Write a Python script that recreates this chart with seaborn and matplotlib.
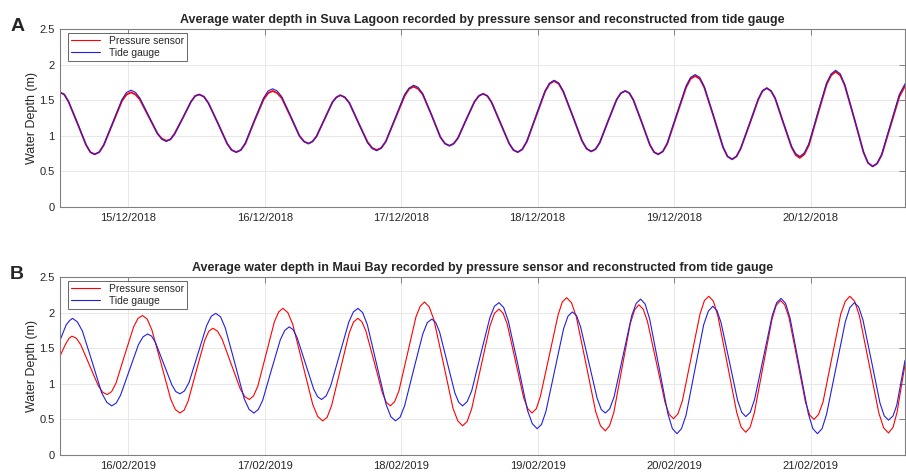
import pandas as pd
import numpy as np
import matplotlib
matplotlib.use("Agg")
import matplotlib.pyplot as plt
import matplotlib.dates as mdates
import seaborn as sns

# hours since the left edge of each panel, water depth in m
suva_start = "2018-12-14 12:00"
suva_hours = [0, 0.76, 1.5, 3.05, 4.6, 5.34, 6.1, 6.9, 7.7, 9.3, 10.9, 11.7,
              12.5, 13.28, 14.05, 15.6, 17.15, 17.92, 18.7, 19.43, 20.15, 21.6, 23.05, 23.78,
              24.5, 25.31, 26.1, 27.75, 29.4, 30.19, 31.0, 31.8, 32.6, 34.2, 35.8, 36.6,
              37.4, 38.19, 39.0, 40.55, 42.1, 42.91, 43.7, 44.4, 45.1, 46.5, 47.9, 48.6,
              49.3, 50.1, 50.9, 52.5, 54.1, 54.9, 55.7, 56.51, 57.3, 58.95, 60.6, 61.39,
              62.2, 62.99, 63.8, 65.35, 66.9, 67.71, 68.5, 69.24, 70.0, 71.45, 72.9, 73.66,
              74.4, 75.16, 75.9, 77.45, 79.0, 79.74, 80.5, 81.3, 82.1, 83.7, 85.3, 86.1,
              86.9, 87.71, 88.5, 90.15, 91.8, 92.59, 93.4, 94.15, 94.9, 96.4, 97.9, 98.65,
              99.4, 100.13, 100.85, 102.3, 103.75, 104.48, 105.2, 106.01, 106.8, 108.45, 110.1, 110.89,
              111.7, 112.51, 113.3, 114.95, 116.6, 117.39, 118.2, 118.96, 119.7, 121.25, 122.8, 123.54,
              124.3, 125.03, 125.75, 127.2, 128.65, 129.38, 130.1, 130.89, 131.7, 133.25, 134.8, 135.61,
              136.4, 137.21, 138.0, 139.65, 141.3, 142.09, 142.9, 143.69, 144.5, 146.05, 147.6, 148.6]
suva_sensor = [1.61, 1.58, 1.48, 1.18, 0.87, 0.77, 0.74, 0.77, 0.87, 1.18, 1.49, 1.58,
               1.61, 1.58, 1.51, 1.27, 1.03, 0.96, 0.93, 0.95, 1.03, 1.25, 1.48, 1.56,
               1.58, 1.55, 1.46, 1.18, 0.89, 0.80, 0.77, 0.80, 0.89, 1.21, 1.51, 1.60,
               1.63, 1.60, 1.53, 1.27, 1.00, 0.92, 0.89, 0.92, 0.99, 1.23, 1.47, 1.54,
               1.57, 1.54, 1.46, 1.18, 0.91, 0.83, 0.80, 0.83, 0.92, 1.24, 1.56, 1.66,
               1.69, 1.66, 1.58, 1.29, 0.98, 0.89, 0.86, 0.89, 0.97, 1.23, 1.48, 1.56,
               1.59, 1.56, 1.47, 1.18, 0.89, 0.80, 0.77, 0.81, 0.92, 1.27, 1.62, 1.73,
               1.77, 1.73, 1.62, 1.28, 0.93, 0.82, 0.78, 0.81, 0.90, 1.21, 1.51, 1.60,
               1.63, 1.60, 1.50, 1.19, 0.87, 0.77, 0.74, 0.78, 0.89, 1.29, 1.68, 1.80,
               1.84, 1.80, 1.68, 1.27, 0.84, 0.71, 0.67, 0.71, 0.82, 1.16, 1.51, 1.63,
               1.67, 1.63, 1.53, 1.18, 0.84, 0.73, 0.69, 0.74, 0.87, 1.30, 1.72, 1.85,
               1.90, 1.85, 1.71, 1.25, 0.77, 0.62, 0.57, 0.61, 0.73, 1.14, 1.55, 1.70]
suva_gauge = [1.61, 1.58, 1.48, 1.18, 0.87, 0.77, 0.74, 0.77, 0.87, 1.19, 1.51, 1.61,
              1.64, 1.61, 1.53, 1.28, 1.03, 0.95, 0.92, 0.95, 1.02, 1.25, 1.48, 1.56,
              1.58, 1.55, 1.46, 1.18, 0.89, 0.80, 0.77, 0.80, 0.90, 1.22, 1.53, 1.63,
              1.66, 1.63, 1.55, 1.28, 1.00, 0.92, 0.89, 0.92, 0.99, 1.23, 1.47, 1.54,
              1.57, 1.54, 1.46, 1.18, 0.90, 0.82, 0.79, 0.83, 0.92, 1.25, 1.58, 1.67,
              1.71, 1.68, 1.59, 1.29, 0.98, 0.89, 0.86, 0.89, 0.97, 1.23, 1.48, 1.56,
              1.59, 1.56, 1.47, 1.18, 0.89, 0.80, 0.77, 0.81, 0.92, 1.28, 1.63, 1.74,
              1.78, 1.74, 1.63, 1.28, 0.93, 0.82, 0.78, 0.81, 0.90, 1.21, 1.51, 1.60,
              1.63, 1.60, 1.50, 1.19, 0.87, 0.77, 0.74, 0.78, 0.90, 1.30, 1.70, 1.82,
              1.86, 1.82, 1.69, 1.27, 0.84, 0.71, 0.67, 0.71, 0.82, 1.17, 1.52, 1.63,
              1.67, 1.63, 1.53, 1.19, 0.85, 0.75, 0.71, 0.76, 0.89, 1.32, 1.74, 1.87,
              1.92, 1.87, 1.72, 1.25, 0.77, 0.62, 0.57, 0.61, 0.74, 1.16, 1.58, 1.73]

maui_start = "2019-02-15 12:00"
maui_sensor_hours = [0, 1.0, 1.6,
                     2.1, 2.88, 3.65, 5.2, 6.75, 7.53, 8.3, 9.08, 9.85, 11.4, 12.95, 13.73,
                     14.5, 15.33, 16.15, 17.8, 19.45, 20.28, 21.1, 21.83, 22.55, 24.0, 25.45, 26.18,
                     26.9, 27.7, 28.5, 30.1, 31.7, 32.5, 33.3, 34.04, 34.8, 36.25, 37.7, 38.46,
                     39.2, 40.08, 40.95, 42.7, 44.45, 45.33, 46.2, 46.98, 47.75, 49.3, 50.85, 51.63,
                     52.4, 53.11, 53.8, 55.25, 56.7, 57.39, 58.1, 58.85, 59.6, 61.1, 62.6, 63.35,
                     64.1, 64.94, 65.75, 67.45, 69.1, 69.96, 70.8, 71.6, 72.4, 74.0, 75.6, 76.4,
                     77.2, 77.93, 78.65, 80.1, 81.55, 82.28, 83.0, 83.76, 84.5, 86.05, 87.6, 88.34,
                     89.1, 89.95, 90.8, 92.5, 94.2, 95.05, 95.9, 96.64, 97.4, 98.85, 100.3, 101.06,
                     101.8, 102.56, 103.3, 104.85, 106.4, 107.14, 107.9, 108.68, 109.45, 111.0, 112.55, 113.33,
                     114.1, 114.91, 115.7, 117.35, 119.0, 119.79, 120.6, 121.36, 122.1, 123.65, 125.2, 125.94,
                     126.7, 127.44, 128.2, 129.65, 131.1, 131.86, 132.6, 133.39, 134.2, 135.75, 137.3, 138.11,
                     138.9, 139.75, 140.6, 142.3, 144.0, 144.85, 145.7, 146.5, 147.2, 148.6]
maui_sensor = [1.39, 1.56, 1.64,
               1.67, 1.64, 1.55, 1.26, 0.97, 0.88, 0.85, 0.89, 1.01, 1.41, 1.80, 1.92,
               1.96, 1.91, 1.76, 1.28, 0.79, 0.64, 0.59, 0.63, 0.76, 1.19, 1.61, 1.74,
               1.78, 1.74, 1.63, 1.28, 0.93, 0.82, 0.78, 0.83, 0.97, 1.42, 1.87, 2.01,
               2.06, 2.00, 1.83, 1.27, 0.71, 0.54, 0.48, 0.53, 0.69, 1.20, 1.71, 1.87,
               1.92, 1.87, 1.74, 1.31, 0.87, 0.74, 0.69, 0.75, 0.90, 1.42, 1.94, 2.09,
               2.15, 2.08, 1.90, 1.28, 0.66, 0.48, 0.41, 0.47, 0.65, 1.23, 1.81, 1.99,
               2.05, 1.99, 1.84, 1.32, 0.80, 0.65, 0.59, 0.65, 0.83, 1.40, 1.97, 2.15,
               2.21, 2.14, 1.94, 1.28, 0.61, 0.41, 0.34, 0.41, 0.60, 1.23, 1.85, 2.04,
               2.11, 2.05, 1.88, 1.31, 0.74, 0.57, 0.51, 0.58, 0.76, 1.37, 1.98, 2.17,
               2.23, 2.16, 1.95, 1.28, 0.60, 0.39, 0.32, 0.39, 0.59, 1.25, 1.90, 2.10,
               2.17, 2.11, 1.93, 1.34, 0.74, 0.56, 0.50, 0.57, 0.75, 1.37, 1.98, 2.16,
               2.23, 2.16, 1.95, 1.27, 0.59, 0.38, 0.31, 0.39, 0.60, 1.27]
maui_gauge_hours = [0, 1.1, 1.7,
                    2.2, 3.06, 3.95, 5.65, 7.35, 8.24, 9.1, 9.89, 10.65, 12.25, 13.8, 14.61,
                    15.4, 16.11, 16.8, 18.25, 19.7, 20.39, 21.1, 21.89, 22.7, 24.25, 25.8, 26.61,
                    27.4, 28.24, 29.05, 30.75, 32.4, 33.26, 34.1, 34.88, 35.65, 37.2, 38.75, 39.53,
                    40.3, 41.01, 41.7, 43.15, 44.6, 45.29, 46.0, 46.8, 47.6, 49.2, 50.8, 51.6,
                    52.4, 53.23, 54.05, 55.7, 57.35, 58.18, 59.0, 59.8, 60.6, 62.2, 63.8, 64.6,
                    65.4, 66.08, 66.75, 68.1, 69.45, 70.13, 70.8, 71.6, 72.4, 74.0, 75.6, 76.4,
                    77.2, 78.04, 78.85, 80.55, 82.2, 83.06, 83.9, 84.68, 85.45, 87.0, 88.55, 89.33,
                    90.1, 90.83, 91.55, 93.0, 94.45, 95.18, 95.9, 96.68, 97.45, 99.0, 100.55, 101.33,
                    102.1, 102.9, 103.7, 105.3, 106.9, 107.7, 108.5, 109.29, 110.1, 111.65, 113.2, 114.01,
                    114.8, 115.53, 116.25, 117.7, 119.15, 119.88, 120.6, 121.38, 122.15, 123.7, 125.25, 126.03,
                    126.8, 127.6, 128.4, 130.0, 131.6, 132.4, 133.2, 134.01, 134.8, 136.45, 138.1, 138.89,
                    139.7, 140.45, 141.2, 142.7, 144.2, 144.95, 145.7, 146.5, 147.15, 148.6]
maui_gauge = [1.61, 1.83, 1.89,
              1.92, 1.87, 1.74, 1.31, 0.87, 0.74, 0.69, 0.73, 0.84, 1.20, 1.55, 1.66,
              1.70, 1.67, 1.58, 1.28, 0.98, 0.89, 0.86, 0.90, 1.02, 1.42, 1.82, 1.95,
              1.99, 1.94, 1.79, 1.29, 0.79, 0.64, 0.59, 0.64, 0.77, 1.20, 1.62, 1.75,
              1.80, 1.76, 1.65, 1.29, 0.93, 0.82, 0.78, 0.83, 0.97, 1.42, 1.87, 2.01,
              2.06, 2.00, 1.83, 1.27, 0.71, 0.54, 0.48, 0.53, 0.69, 1.20, 1.70, 1.86,
              1.91, 1.86, 1.73, 1.30, 0.87, 0.74, 0.69, 0.75, 0.90, 1.42, 1.93, 2.09,
              2.14, 2.07, 1.88, 1.26, 0.63, 0.44, 0.37, 0.43, 0.61, 1.19, 1.77, 1.95,
              2.01, 1.96, 1.80, 1.30, 0.80, 0.64, 0.59, 0.65, 0.82, 1.39, 1.96, 2.13,
              2.19, 2.12, 1.91, 1.25, 0.58, 0.37, 0.30, 0.37, 0.56, 1.20, 1.83, 2.02,
              2.09, 2.03, 1.86, 1.32, 0.77, 0.60, 0.54, 0.60, 0.78, 1.37, 1.96, 2.14,
              2.20, 2.13, 1.92, 1.25, 0.58, 0.37, 0.30, 0.37, 0.57, 1.22, 1.87, 2.07,
              2.14, 2.08, 1.90, 1.32, 0.73, 0.55, 0.49, 0.55, 0.70, 1.33]

titles = ["Average water depth in Suva Lagoon recorded by pressure sensor and reconstructed from tide gauge",
          "Average water depth in Maui Bay recorded by pressure sensor and reconstructed from tide gauge"]
letters = ["A", "B"]
series_names = ["Pressure sensor", "Tide gauge"]
span_hours = 148.6

sns.set_theme(style="whitegrid")
plt.rcParams['font.family'] = ['Liberation Sans', 'DejaVu Sans']


def to_frame(start, hours, depth):
    t0 = pd.Timestamp(start)
    return pd.DataFrame({'time': t0 + pd.to_timedelta(hours, unit='h'), 'depth': depth})


fig = plt.figure(figsize=(9.06, 4.73), dpi=100)
ax_a = fig.add_axes([0.0662, 0.5624, 0.9327, 0.3763])
ax_b = fig.add_axes([0.0662, 0.0380, 0.9327, 0.3763])

panels = [
    (ax_a, suva_start, to_frame(suva_start, suva_hours, suva_sensor), to_frame(suva_start, suva_hours, suva_gauge)),
    (ax_b, maui_start, to_frame(maui_start, maui_sensor_hours, maui_sensor),
     to_frame(maui_start, maui_gauge_hours, maui_gauge)),
]

for i, (ax, start, sensor_df, gauge_df) in enumerate(panels):
    # the Suva sensor trace is noisy, so it reads as a thicker red band
    lw_red = 1.3 if i == 0 else 0.8
    sns.lineplot(data=sensor_df, x='time', y='depth', ax=ax, color='#ff0000', linewidth=lw_red,
                 label=series_names[0], estimator=None, sort=False)
    sns.lineplot(data=gauge_df, x='time', y='depth', ax=ax, color='#2020e0', linewidth=0.8,
                 label=series_names[1], estimator=None, sort=False)

    t0 = pd.Timestamp(start)
    ax.set_xlim(t0, t0 + pd.Timedelta(hours=span_hours))
    ax.set_ylim(0, 2.5)
    ax.set_yticks([0, 0.5, 1, 1.5, 2, 2.5])
    ax.set_yticklabels(['0', '0.5', '1', '1.5', '2', '2.5'])
    ax.xaxis.set_major_locator(mdates.DayLocator())
    ax.xaxis.set_major_formatter(mdates.DateFormatter('%d/%m/%Y'))

    ax.set_xlabel('')
    ax.set_ylabel('Water Depth (m)', fontsize=9, color='#262626', labelpad=0.5)
    ax.set_title(titles[i], fontsize=9, fontweight='bold', pad=4)
    ax.grid(True, color='#e8e8e8', linewidth=0.7)
    for side in ax.spines.values():
        side.set_color('#808080')
        side.set_linewidth(0.8)
    ax.tick_params(axis='both', direction='in', length=4, width=0.7, color='#808080',
                   labelsize=8, labelcolor='#262626', top=True, right=True, pad=4)

    leg = ax.legend(loc='upper left', bbox_to_anchor=(0.009, 0.98), fontsize=7.4, frameon=True,
                    fancybox=False, borderpad=0.3, labelspacing=0.2, handlelength=2.9,
                    handletextpad=0.8, borderaxespad=0)
    leg.get_frame().set_edgecolor('#404040')
    leg.get_frame().set_linewidth(0.7)
    for handle in leg.get_lines():
        handle.set_linewidth(0.8)

    ax.text(-0.059, 1.012, letters[i], transform=ax.transAxes, fontsize=14, fontweight='bold',
            ha='left', va='center')

fig.savefig('out.png', dpi=100)
